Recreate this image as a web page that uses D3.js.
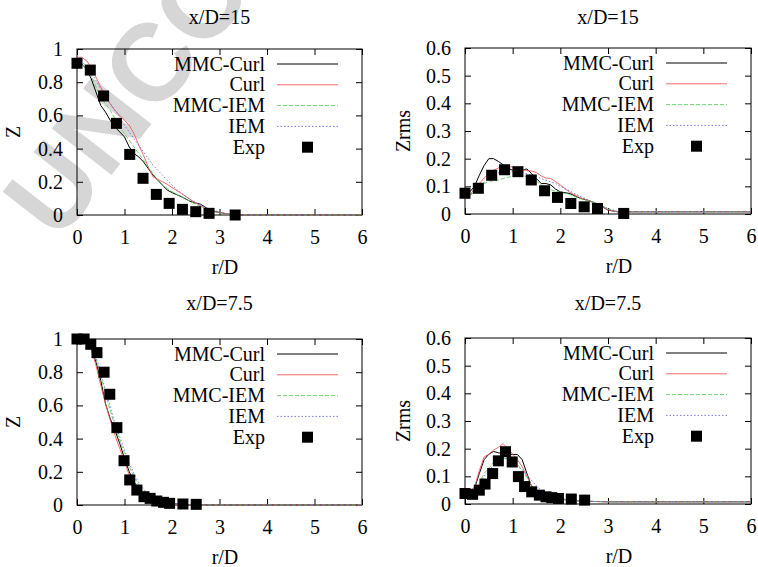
<!DOCTYPE html>
<html>
<head>
<meta charset="utf-8">
<script src="https://cdn.jsdelivr.net/npm/d3@7"></script>
<style>
  html, body { margin: 0; padding: 0; background: #fff; }
  svg { display: block; }
</style>
</head>
<body>
<svg id="chart" width="758" height="567"></svg>
<script>
// ---------- DATA ----------
const seriesNames = ["MMC-Curl", "Curl", "MMC-IEM", "IEM", "Exp"];

// Panel A: mean Z at x/D = 15
const rA = [0,0.1,0.2,0.3,0.4,0.5,0.6,0.7,0.8,0.9,1.0,1.1,1.2,1.3,1.4,1.5,1.6,1.7,1.8,1.9,2.0,2.2,2.4,2.6,2.8,3.0,3.2,3.4,6.0];
const mmcCurlA = [0.93,0.91,0.88,0.82,0.74,0.66,0.62,0.57,0.53,0.50,0.47,0.41,0.37,0.35,0.32,0.28,0.24,0.21,0.18,0.15,0.135,0.11,0.08,0.065,0.03,0.015,0.005,0,0];
const curlA    = [0.95,0.95,0.93,0.89,0.83,0.77,0.72,0.67,0.63,0.60,0.57,0.54,0.49,0.42,0.36,0.29,0.23,0.215,0.20,0.185,0.165,0.13,0.09,0.055,0.025,0.015,0.005,0,0];
const mmcIemA  = [0.93,0.91,0.88,0.84,0.77,0.71,0.67,0.63,0.58,0.53,0.49,0.45,0.41,0.37,0.33,0.29,0.25,0.21,0.18,0.16,0.14,0.11,0.08,0.05,0.025,0.012,0.005,0,0];
const iemA     = [0.93,0.92,0.90,0.86,0.81,0.76,0.71,0.67,0.63,0.59,0.54,0.50,0.46,0.42,0.38,0.34,0.30,0.27,0.24,0.21,0.18,0.13,0.09,0.06,0.035,0.018,0.006,0,0];
const expRA = [0,0.28,0.56,0.83,1.11,1.39,1.67,1.94,2.22,2.5,2.78,3.33];
const expA  = [0.914,0.873,0.717,0.552,0.365,0.221,0.124,0.070,0.034,0.020,0.010,0.0];

// Panel B: Zrms at x/D = 15
const rB = [0,0.1,0.2,0.3,0.4,0.5,0.6,0.7,0.8,0.9,1.0,1.1,1.2,1.3,1.4,1.5,1.6,1.7,1.8,1.9,2.0,2.2,2.4,2.6,2.8,3.0,3.2,3.4,6.0];
const mmcCurlB = [0.063,0.08,0.10,0.14,0.175,0.20,0.20,0.19,0.178,0.166,0.158,0.153,0.158,0.163,0.145,0.128,0.11,0.11,0.105,0.09,0.08,0.074,0.058,0.048,0.035,0.014,0.008,0.008,0.008];
const curlB    = [0.056,0.07,0.09,0.11,0.13,0.145,0.158,0.166,0.17,0.172,0.17,0.165,0.16,0.157,0.155,0.15,0.137,0.13,0.128,0.117,0.105,0.078,0.06,0.048,0.035,0.015,0.008,0.008,0.008];
const mmcIemB  = [0.056,0.068,0.08,0.092,0.11,0.118,0.12,0.123,0.128,0.133,0.136,0.139,0.14,0.135,0.128,0.118,0.105,0.097,0.088,0.082,0.078,0.07,0.056,0.047,0.038,0.018,0.008,0.008,0.008];
const iemB     = [0.056,0.068,0.08,0.095,0.115,0.13,0.14,0.148,0.153,0.155,0.155,0.153,0.15,0.145,0.14,0.135,0.128,0.122,0.116,0.11,0.10,0.083,0.065,0.05,0.035,0.02,0.009,0.008,0.008];
const expRB = [0,0.28,0.56,0.83,1.11,1.39,1.67,1.94,2.22,2.5,2.78,3.33];
const expB  = [0.075,0.093,0.14,0.16,0.153,0.123,0.084,0.06,0.038,0.026,0.02,0.002];

// Panel C: mean Z at x/D = 7.5
const rC = [0,0.1,0.2,0.3,0.4,0.5,0.6,0.7,0.8,0.9,1.0,1.1,1.2,1.3,1.4,1.5,1.6,1.8,2.0,2.2,2.5,6.0];
const mmcCurlC = [1.0,1.0,0.99,0.95,0.86,0.75,0.61,0.52,0.45,0.37,0.28,0.20,0.14,0.10,0.07,0.045,0.03,0.015,0.008,0.004,0,0];
const curlC    = [1.0,1.0,0.99,0.94,0.84,0.72,0.61,0.51,0.42,0.34,0.26,0.18,0.12,0.08,0.05,0.03,0.02,0.01,0.005,0.003,0,0];
const mmcIemC  = [1.0,1.0,0.99,0.96,0.88,0.78,0.67,0.57,0.47,0.39,0.31,0.23,0.17,0.12,0.08,0.055,0.035,0.015,0.008,0.004,0,0];
const iemC     = [1.0,1.0,0.99,0.965,0.89,0.80,0.69,0.59,0.49,0.41,0.33,0.25,0.19,0.135,0.095,0.065,0.045,0.02,0.01,0.005,0,0];
const expRC = [0,0.15,0.29,0.42,0.57,0.69,0.84,0.99,1.11,1.26,1.41,1.54,1.68,1.82,1.95,2.23,2.51];
const expC  = [1.0,1.0,0.968,0.918,0.80,0.667,0.466,0.267,0.151,0.09,0.05,0.04,0.024,0.016,0.01,0.006,0.004];

// Panel D: Zrms at x/D = 7.5
const rD = [0,0.1,0.2,0.3,0.4,0.5,0.6,0.7,0.8,0.9,1.0,1.1,1.2,1.3,1.4,1.5,1.6,1.8,2.0,2.2,2.5,3.0,6.0];
const mmcCurlD = [0.032,0.042,0.056,0.11,0.16,0.18,0.19,0.185,0.183,0.18,0.179,0.179,0.16,0.11,0.062,0.045,0.032,0.022,0.017,0.014,0.01,0.008,0.008];
const curlD    = [0.032,0.045,0.062,0.12,0.17,0.18,0.195,0.205,0.218,0.20,0.18,0.16,0.135,0.10,0.065,0.045,0.032,0.022,0.018,0.014,0.01,0.008,0.008];
const mmcIemD  = [0.032,0.042,0.052,0.075,0.11,0.13,0.15,0.16,0.165,0.162,0.155,0.145,0.12,0.095,0.065,0.045,0.035,0.022,0.018,0.014,0.01,0.008,0.008];
const iemD     = [0.032,0.04,0.05,0.07,0.10,0.12,0.14,0.155,0.163,0.165,0.148,0.135,0.125,0.105,0.085,0.065,0.05,0.03,0.02,0.015,0.01,0.008,0.008];
const expRD = [0,0.16,0.30,0.42,0.58,0.70,0.85,0.99,1.12,1.25,1.40,1.56,1.70,1.82,1.96,2.23,2.51];
const expD  = [0.038,0.035,0.05,0.072,0.11,0.156,0.189,0.152,0.099,0.063,0.044,0.032,0.026,0.023,0.02,0.018,0.014];

const xTicks = [0,1,2,3,4,5,6];
const zTicks = [0,0.2,0.4,0.6,0.8,1];
const zTickLabels = ["0","0.2","0.4","0.6","0.8","1"];
const rmsTicks = [0,0.1,0.2,0.3,0.4,0.5,0.6];
const rmsTickLabels = ["0","0.1","0.2","0.3","0.4","0.5","0.6"];
const titles = ["x/D=15", "x/D=15", "x/D=7.5", "x/D=7.5"];
const yLabels = ["Z", "Zrms", "Z", "Zrms"];
const xLabel = "r/D";
const watermark = "UNCOR";

// ---------- STYLE / LAYOUT ----------
const SERIF = "Liberation Serif";
const styles = [
  { color: "#000000", width: 1.0, dash: null },
  { color: "#f05a5a", width: 0.9, dash: null },
  { color: "#5cd05c", width: 0.9, dash: "4,2" },
  { color: "#6a6ae8", width: 0.9, dash: "1.5,2" }
];

const panels = [
  { left: 77, right: 362, top: 49, bottom: 215, yMax: 1, ticks: zTicks, tickLabels: zTickLabels,
    r: rA, series: [mmcCurlA, curlA, mmcIemA, iemA], expR: expRA, exp: expA,
    titleY: 24, xLabX: 225, yLabX: 13 },
  { left: 465, right: 751, top: 48, bottom: 214, yMax: 0.6, ticks: rmsTicks, tickLabels: rmsTickLabels,
    r: rB, series: [mmcCurlB, curlB, mmcIemB, iemB], expR: expRB, exp: expB,
    titleY: 24, xLabX: 619, yLabX: 403 },
  { left: 77, right: 362, top: 339, bottom: 505, yMax: 1, ticks: zTicks, tickLabels: zTickLabels,
    r: rC, series: [mmcCurlC, curlC, mmcIemC, iemC], expR: expRC, exp: expC,
    titleY: 310, xLabX: 225, yLabX: 13 },
  { left: 465, right: 751, top: 338, bottom: 504, yMax: 0.6, ticks: rmsTicks, tickLabels: rmsTickLabels,
    r: rD, series: [mmcCurlD, curlD, mmcIemD, iemD], expR: expRD, exp: expD,
    titleY: 310, xLabX: 619, yLabX: 403 }
];

const svg = d3.select("#chart");
const FS = 20;
function serifText(sel) {
  return sel.attr("font-family", SERIF).style("font-family", SERIF)
    .style("font-size", FS + "px").attr("fill", "#000");
}

// watermark (behind everything)
svg.append("text")
  .attr("transform", "translate(27,219) rotate(-52)")
  .attr("dy", "0.36em")
  .attr("font-family", "Liberation Sans")
  .style("font-family", "Liberation Sans")
  .style("font-weight", "bold")
  .style("font-size", "110px")
  .attr("fill", "#d6d6d6")
  .text(watermark);

panels.forEach((p, i) => {
  const x = d3.scaleLinear().domain([0, 6]).range([p.left, p.right]);
  const y = d3.scaleLinear().domain([0, p.yMax]).range([p.bottom, p.top]);
  const g = svg.append("g");

  // axes with inward ticks
  const fmt = (d) => p.tickLabels[p.ticks.indexOf(d)];
  const axB = g.append("g").attr("transform", `translate(0,${p.bottom})`)
    .call(d3.axisBottom(x).tickValues(xTicks).tickFormat(d3.format("d")).tickSizeInner(-6).tickSizeOuter(0).tickPadding(15));
  const axT = g.append("g").attr("transform", `translate(0,${p.top})`)
    .call(d3.axisTop(x).tickValues(xTicks).tickFormat("").tickSizeInner(-6).tickSizeOuter(0));
  const axL = g.append("g").attr("transform", `translate(${p.left},0)`)
    .call(d3.axisLeft(y).tickValues(p.ticks).tickFormat(fmt).tickSizeInner(-6).tickSizeOuter(0).tickPadding(14));
  const axR = g.append("g").attr("transform", `translate(${p.right},0)`)
    .call(d3.axisRight(y).tickValues(p.ticks).tickFormat("").tickSizeInner(-6).tickSizeOuter(0));
  [axB, axT, axL, axR].forEach(a => {
    a.attr("font-family", SERIF).attr("font-size", FS);
    a.select(".domain").remove();
    a.selectAll("line").attr("stroke", "#000").attr("stroke-width", 1);
    serifText(a.selectAll("text"));
  });

  // frame
  g.append("rect").attr("x", p.left).attr("y", p.top)
    .attr("width", p.right - p.left).attr("height", p.bottom - p.top)
    .attr("fill", "none").attr("stroke", "#000").attr("stroke-width", 1);

  // title and labels
  serifText(g.append("text")).attr("x", (p.left + p.right) / 2).attr("y", p.titleY)
    .attr("text-anchor", "middle").text(titles[i]);
  serifText(g.append("text")).attr("x", p.xLabX).attr("y", p.bottom + 59)
    .attr("text-anchor", "middle").text(xLabel);
  serifText(g.append("text")).attr("transform", `translate(${p.yLabX},${(p.top + p.bottom) / 2}) rotate(-90)`)
    .attr("text-anchor", "middle").attr("dy", "0.35em").text(yLabels[i]);

  // curves
  const line = d3.line().x(d => x(d[0])).y(d => y(d[1]));
  p.series.forEach((vals, k) => {
    const pts = p.r.map((rv, j) => [rv, vals[j]]);
    const st = styles[k];
    const path = g.append("path").datum(pts).attr("d", line)
      .attr("fill", "none").attr("stroke", st.color).attr("stroke-width", st.width);
    if (st.dash) path.attr("stroke-dasharray", st.dash);
  });

  // experimental squares
  const S = 11;
  g.selectAll("rect.exp").data(p.expR.map((rv, j) => [rv, p.exp[j]])).join("rect")
    .attr("class", "exp")
    .attr("x", d => x(d[0]) - S / 2).attr("y", d => y(d[1]) - S / 2)
    .attr("width", S).attr("height", S).attr("fill", "#000");

  // legend
  const textEnd = p.right - 97, lx1 = p.right - 85, lx2 = p.right - 24;
  seriesNames.forEach((name, k) => {
    const ly = p.top + 15 + k * 20.8;
    serifText(g.append("text")).attr("x", textEnd).attr("y", ly)
      .attr("text-anchor", "end").attr("dy", "0.33em").text(name);
    if (k < 4) {
      const st = styles[k];
      const l = g.append("line").attr("x1", lx1).attr("x2", lx2).attr("y1", ly).attr("y2", ly)
        .attr("stroke", st.color).attr("stroke-width", st.width);
      if (st.dash) l.attr("stroke-dasharray", st.dash);
    } else {
      g.append("rect").attr("x", (lx1 + lx2) / 2 - S / 2).attr("y", ly - S / 2)
        .attr("width", S).attr("height", S).attr("fill", "#000");
    }
  });
});
</script>
</body>
</html>
